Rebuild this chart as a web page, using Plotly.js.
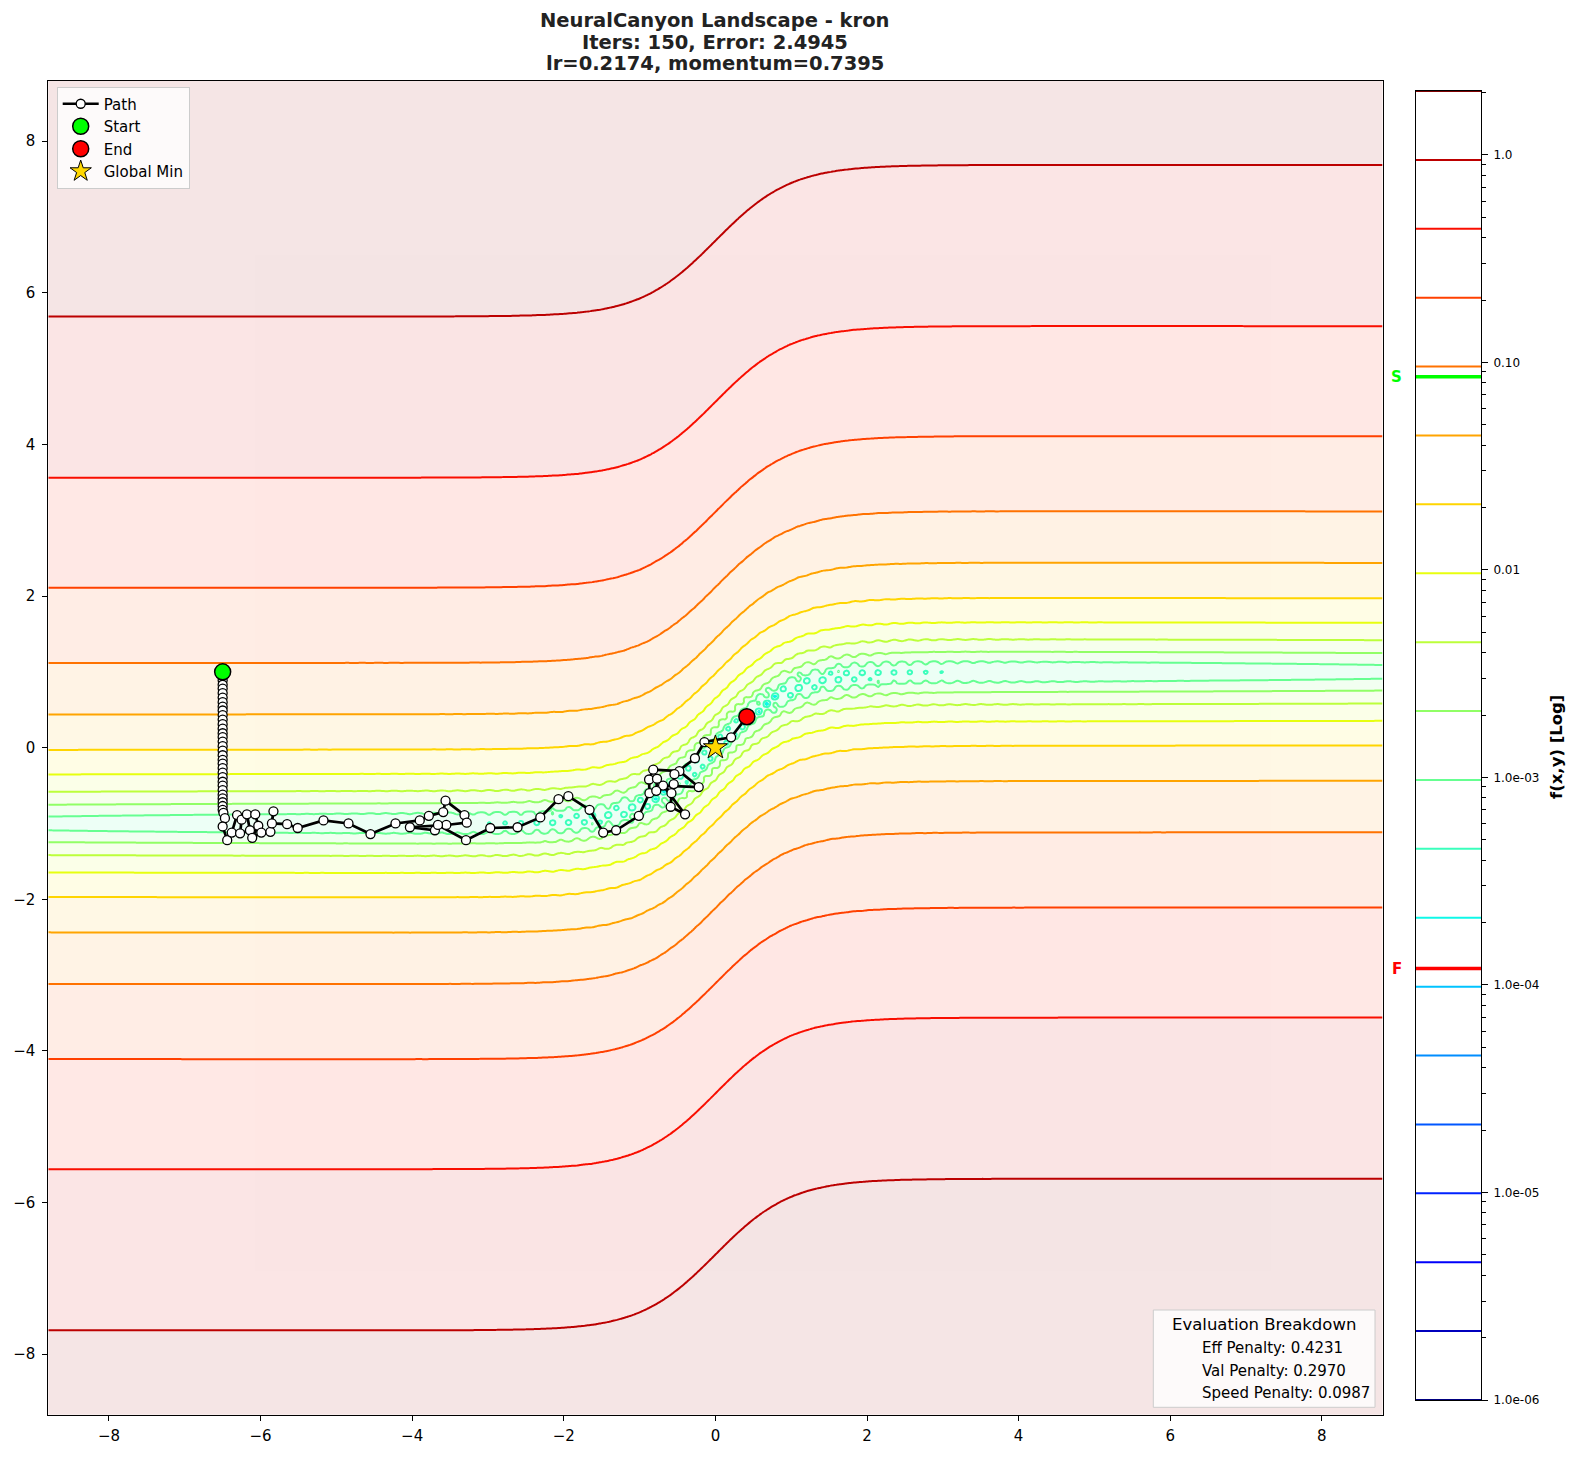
<!DOCTYPE html>
<html>
<head>
<meta charset="utf-8">
<script src="https://cdn.plot.ly/plotly-3.0.1.min.js"></script>
<style>
  html, body { margin: 0; padding: 0; background: #ffffff; }
  #chart { width: 1580px; height: 1457px; }
</style>
</head>
<body>
<div id="chart"></div>
<script>
// ---------- optimiser path, one entry per recorded iterate ----------
const pathX = [
  -6.50, -6.50, -6.50, -6.50, -6.50, -6.50, -6.50, -6.50, -6.50, -6.50,
  -6.50, -6.50, -6.50, -6.50, -6.50, -6.50, -6.50, -6.50, -6.50, -6.50,
  -6.50, -6.50, -6.50, -6.50, -6.50, -6.50, -6.50, -6.50, -6.50, -6.50,
  -6.50, -6.50, -6.50, -6.49,
  -6.47, -6.50, -6.44, -6.38, -6.31, -6.25, -6.27, -6.14, -6.18, -6.07,
  -6.03, -6.11, -5.99, -5.87, -5.83, -5.85,
  -5.65, -5.51, -5.17, -4.84, -4.55, -4.22, -3.90, -3.78, -3.59, -3.56,
  -3.31, -3.28, -3.55, -4.03, -3.70, -3.66, -3.29, -2.97,
  -2.61, -2.31, -2.07, -1.94, -1.66, -1.48, -1.31, -1.01, -0.87,
  -0.875, -0.82, -0.475, -0.22, -0.69, -0.40, -0.59, -0.58, -0.77, -0.78,
  -0.55, -0.54, -0.27, -0.145, 0.207, 0.415
];
const pathY = [
  1.00, 0.95, 0.89, 0.83, 0.78, 0.72, 0.66, 0.60, 0.54, 0.49,
  0.43, 0.37, 0.31, 0.25, 0.19, 0.14, 0.08, 0.02, -0.04, -0.10,
  -0.16, -0.21, -0.27, -0.33, -0.39, -0.45, -0.50, -0.56, -0.62, -0.67,
  -0.72, -0.77, -0.82, -0.86,
  -0.93, -1.04, -1.22, -1.12, -0.89, -0.95, -1.13, -1.09, -0.88, -0.88,
  -1.03, -1.19, -1.12, -1.11, -0.84, -1.00,
  -1.01, -1.06, -0.96, -1.00, -1.14, -1.00, -0.96, -0.90, -0.85, -0.70,
  -0.89, -0.99, -1.02, -1.05, -1.09, -1.02, -1.22, -1.06,
  -1.05, -0.92, -0.68, -0.64, -0.82, -1.12, -1.09, -0.90, -0.60,
  -0.42, -0.29, -0.31, -0.52, -0.50, -0.88, -0.78, -0.60, -0.41, -0.57,
  -0.48, -0.35, -0.14, 0.074, 0.136, 0.408
];
const startX = [-6.50], startY = [1.00];
const endX = [0.415], endY = [0.408];
const minX = [0.0], minY = [0.0];

// ---------- text ----------
const titleLines = [
  'NeuralCanyon Landscape - kron',
  'Iters: 150, Error: 2.4945',
  'lr=0.2174, momentum=0.7395'
];
const breakdownTitle = 'Evaluation Breakdown';
const penaltyNames = ['Eff Penalty', 'Val Penalty', 'Speed Penalty'];
const penaltyValues = ['0.4231', '0.2970', '0.0987'];
const colorbarLabel = 'f(x,y) [Log]';

// ---------- contour levels / colour bar ----------
const levelMinLog = -6.0;      // log10 of the lowest level
const levelMaxLog = 0.3083;    // log10 of the highest level
const levelCount = 20;
const startValue = 0.0853;     // f at the first iterate  (S)
const finalValue = 1.20e-4;    // f at the last iterate   (F)
const cbarTickVals = [1e-6, 1e-5, 1e-4, 1e-3, 1e-2, 1e-1, 1];
const cbarTickText = ['1.0e-06', '1.0e-05', '1.0e-04', '1.0e-03', '0.01', '0.10', '1.0'];

// ---------- landscape parameters ----------
const canyonCurv = 0.02116;    // wall steepness across the canyon
const floorBase = 5.5e-4;      // canyon floor height at x = 0
const floorGrowth = 3.2e-6;    // slow rise of the floor with |x|
const rippleAmp = 4.3e-4;      // small egg-crate ripple on the floor
const rippleWidth2 = 8.5;      // squared width of the ripple envelope
const rippleFreq = 30;
const domainLim = 8.8;

function landscape(x, y) {
  const d = y - Math.tanh(x);
  return canyonCurv * d * d + floorBase + floorGrowth * x * x +
         rippleAmp * Math.exp(-x * x / rippleWidth2) *
         Math.sin(rippleFreq * x) * Math.sin(rippleFreq * y);
}

// evaluation mesh
function mesh(lo, hi, step) {
  const n = Math.round((hi - lo) / step);
  const out = [];
  for (let i = 0; i <= n; i++) out.push(lo + (hi - lo) * i / n);
  return out;
}
function joinMesh(parts) {
  const out = [];
  parts.forEach(p => p.forEach(v => { if (!out.length || v > out[out.length - 1] + 1e-9) out.push(v); }));
  return out;
}
function logSurface(xs, ys) {
  return ys.map(y => xs.map(x => Math.log10(Math.max(landscape(x, y), 1e-7))));
}

const fineX = mesh(-domainLim, domainLim, 0.025);
const fineY = joinMesh([mesh(-domainLim, -3, 0.1), mesh(-3, 3, 0.025), mesh(3, domainLim, 0.1)]);
const fineZ = logSurface(fineX, fineY);
const coarseX = mesh(-domainLim, domainLim, 0.05);
const coarseY = mesh(-domainLim, domainLim, 0.05);
const coarseZ = logSurface(coarseX, coarseY);

// matplotlib "jet"
function interp(pts, t) {
  for (let i = 1; i < pts.length; i++) {
    if (t <= pts[i][0]) {
      const [x0, y0] = pts[i - 1], [x1, y1] = pts[i];
      return y0 + (y1 - y0) * (t - x0) / (x1 - x0);
    }
  }
  return pts[pts.length - 1][1];
}
function jet(t) {
  t = Math.min(1, Math.max(0, t));
  const r = interp([[0, 0], [0.35, 0], [0.66, 1], [0.89, 1], [1, 0.5]], t);
  const g = interp([[0, 0], [0.125, 0], [0.375, 1], [0.64, 1], [0.91, 0], [1, 0]], t);
  const b = interp([[0, 0.5], [0.11, 1], [0.34, 1], [0.65, 0], [1, 0]], t);
  return 'rgb(' + Math.round(r * 255) + ',' + Math.round(g * 255) + ',' + Math.round(b * 255) + ')';
}
const lineScale = [], fillScale = [];
for (let i = 0; i <= 200; i++) {
  const t = i / 200;
  lineScale.push([t, jet(t)]);
  // each band takes the colour of its arithmetic mid value
  fillScale.push([t, jet((levelCount * t - 0.407) / (levelCount - 1))]);
}
const levelStep = (levelMaxLog - levelMinLog) / (levelCount - 1);
const contourSpec = { start: levelMinLog, end: levelMaxLog, size: levelStep };

const traces = [];
traces.push({
  type: 'contour', x: coarseX, y: coarseY, z: coarseZ,
  autocontour: false,
  contours: Object.assign({ coloring: 'fill', showlines: false }, contourSpec),
  colorscale: fillScale, showscale: false, opacity: 0.1,
  line: { width: 0 }, hoverinfo: 'skip', showlegend: false
});
traces.push({
  type: 'contour', x: fineX, y: fineY, z: fineZ,
  autocontour: false,
  contours: Object.assign({ coloring: 'lines' }, contourSpec),
  colorscale: lineScale, showscale: false,
  line: { width: 2, smoothing: 1 }, hoverinfo: 'skip', showlegend: false
});
traces.push({
  type: 'scatter', mode: 'lines+markers', name: 'Path', x: pathX, y: pathY,
  line: { color: 'black', width: 2.7 },
  marker: { symbol: 'circle', size: 9, color: 'white', line: { color: 'black', width: 1.3 } }
});
traces.push({
  type: 'scatter', mode: 'markers', name: 'Start', x: startX, y: startY,
  marker: { symbol: 'circle', size: 16, color: '#00ff00', line: { color: 'black', width: 1.5 } }
});
traces.push({
  type: 'scatter', mode: 'markers', name: 'End', x: endX, y: endY,
  marker: { symbol: 'circle', size: 16, color: '#ff0000', line: { color: 'black', width: 1.5 } }
});
traces.push({
  type: 'scatter', mode: 'markers', name: 'Global Min', x: minX, y: minY,
  marker: { symbol: 'star', size: 18, color: '#ffd700', line: { color: 'black', width: 1 } }
});

// colour bar: one stroke per contour level
const cbarSpan = [0, 1];
for (let k = 0; k < levelCount; k++) {
  const v = Math.pow(10, levelMinLog + k * levelStep);
  traces.push({
    type: 'scatter', mode: 'lines', x: cbarSpan, y: [v, v], xaxis: 'x2', yaxis: 'y2',
    line: { color: jet(k / (levelCount - 1)), width: 2 },
    cliponaxis: false, hoverinfo: 'skip', showlegend: false
  });
}
traces.push({
  type: 'scatter', mode: 'lines', x: cbarSpan, y: [startValue, startValue], xaxis: 'x2', yaxis: 'y2',
  line: { color: '#00ff00', width: 3.5 }, hoverinfo: 'skip', showlegend: false
});
traces.push({
  type: 'scatter', mode: 'lines', x: cbarSpan, y: [finalValue, finalValue], xaxis: 'x2', yaxis: 'y2',
  line: { color: '#ff0000', width: 3.5 }, hoverinfo: 'skip', showlegend: false
});

const minorVals = [];
for (let e = -6; e <= 0; e++) {
  for (let m = 2; m <= 9; m++) {
    const v = m * Math.pow(10, e);
    if (Math.log10(v) <= levelMaxLog) minorVals.push(v);
  }
}

const W = 1580, H = 1457;
const fx = p => p / W;
const fy = p => 1 - p / H;
const FONT = 'DejaVu Sans';

const annotations = [];
const titleY = [20.7, 42.3, 63.3];
titleLines.forEach((t, i) => annotations.push({
  xref: 'paper', yref: 'paper', x: fx(715.4), y: fy(titleY[i]),
  xanchor: 'center', yanchor: 'middle', showarrow: false,
  text: '<b>' + t + '</b>', font: { family: FONT, size: 19.5, color: '#222222' }
}));
annotations.push({
  xref: 'paper', yref: 'paper', x: fx(1264), y: fy(1324.3),
  xanchor: 'center', yanchor: 'middle', showarrow: false,
  text: breakdownTitle, font: { family: FONT, size: 16.5, color: 'black' }
});
const penaltyY = [1348.3, 1371, 1393.3];
penaltyNames.forEach((n, i) => annotations.push({
  xref: 'paper', yref: 'paper', x: fx(1199.5), y: fy(penaltyY[i]),
  xanchor: 'left', yanchor: 'middle', showarrow: false,
  text: n + ': ' + penaltyValues[i], font: { family: FONT, size: 15, color: 'black' }
}));
annotations.push({
  xref: 'paper', yref: 'y2', x: fx(1396.7), y: Math.log10(startValue),
  xanchor: 'center', yanchor: 'middle', showarrow: false,
  text: '<b>S</b>', font: { family: FONT, size: 15, color: '#00ff00' }
});
annotations.push({
  xref: 'paper', yref: 'y2', x: fx(1396.7), y: Math.log10(finalValue),
  xanchor: 'center', yanchor: 'middle', showarrow: false,
  text: '<b>F</b>', font: { family: FONT, size: 15, color: '#ff0000' }
});
annotations.push({
  xref: 'paper', yref: 'paper', x: fx(1557), y: fy(747),
  xanchor: 'center', yanchor: 'middle', showarrow: false, textangle: -90,
  text: '<b>' + colorbarLabel + '</b>', font: { family: FONT, size: 16.5, color: 'black' }
});

const axisCommon = {
  showgrid: false, zeroline: false, showline: true, mirror: true,
  linecolor: 'black', linewidth: 1, ticks: 'outside', ticklen: 5,
  tickwidth: 1, tickcolor: 'black', tickfont: { family: FONT, size: 15, color: 'black' }
};

const layout = {
  width: W, height: H,
  margin: { l: 0, r: 0, t: 0, b: 0 },
  paper_bgcolor: 'white', plot_bgcolor: 'white',
  font: { family: FONT, size: 15, color: 'black' },
  showlegend: true,
  xaxis: Object.assign({}, axisCommon, {
    domain: [fx(48.3), fx(1382.5)], range: [-domainLim, domainLim],
    tick0: 0, dtick: 2, anchor: 'y', ticklabelstandoff: 2
  }),
  yaxis: Object.assign({}, axisCommon, {
    domain: [fy(1414.7), fy(80.6)], range: [-domainLim, domainLim],
    tick0: 0, dtick: 2, anchor: 'x', ticklabelstandoff: 4
  }),
  xaxis2: {
    domain: [fx(1415.7), fx(1481)], range: [0, 1], anchor: 'y2',
    showgrid: false, zeroline: false, showline: true, mirror: true,
    linecolor: 'black', linewidth: 1, ticks: '', showticklabels: false
  },
  yaxis2: {
    domain: [fy(1400), fy(91)], type: 'log', range: [levelMinLog, levelMaxLog],
    anchor: 'x2', side: 'right',
    showgrid: false, zeroline: false, showline: true, mirror: true,
    linecolor: 'black', linewidth: 1,
    tickmode: 'array', tickvals: cbarTickVals, ticktext: cbarTickText,
    ticks: 'outside', ticklen: 6, tickwidth: 1, tickcolor: 'black',
    tickfont: { family: FONT, size: 12, color: 'black' }, ticklabelstandoff: 3,
    minor: { tickmode: 'array', tickvals: minorVals, ticks: 'outside', ticklen: 3.5,
             tickwidth: 1, tickcolor: 'black', showgrid: false }
  },
  legend: {
    x: fx(56.7), y: fy(86.5), xanchor: 'left', yanchor: 'top',
    bgcolor: 'rgba(255,255,255,0.8)', bordercolor: '#cccccc', borderwidth: 1,
    font: { family: FONT, size: 15, color: 'black' }, itemwidth: 36
  },
  shapes: [{
    type: 'rect', xref: 'paper', yref: 'paper',
    x0: fx(1153.3), x1: fx(1375), y0: fy(1407.3), y1: fy(1310),
    fillcolor: 'rgba(255,255,255,0.8)', line: { color: '#cccccc', width: 1 }
  }],
  annotations: annotations
};

Plotly.newPlot('chart', traces, layout, { displayModeBar: false, staticPlot: true });
</script>
</body>
</html>
